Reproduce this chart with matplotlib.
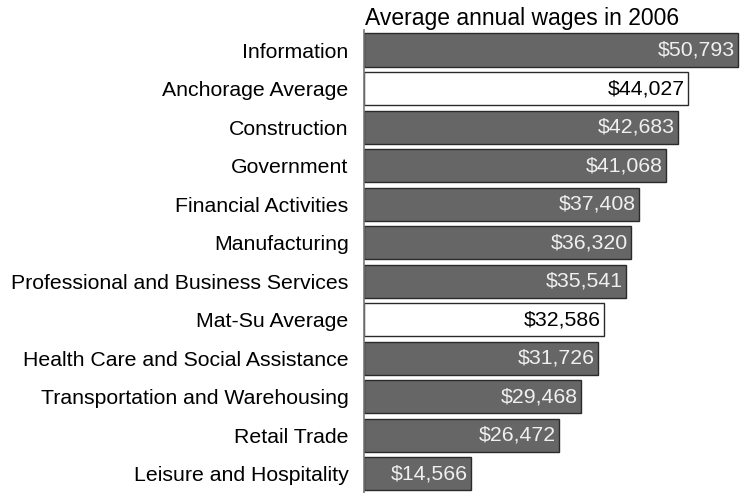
import matplotlib.pyplot as plt

plt.rcParams['font.family'] = ['Liberation Sans', 'DejaVu Sans']

industries = ['Information', 'Anchorage Average', 'Construction', 'Government',
              'Financial Activities', 'Manufacturing',
              'Professional and Business Services', 'Mat-Su Average',
              'Health Care and Social Assistance',
              'Transportation and Warehousing', 'Retail Trade',
              'Leisure and Hospitality']
wages = [50793, 44027, 42683, 41068, 37408, 36320, 35541, 32586, 31726,
         29468, 26472, 14566]
is_average = [False, True, False, False, False, False, False, True, False,
              False, False, False]

fig = plt.figure(figsize=(7.41, 4.93), dpi=100)
ax = fig.add_axes([364 / 741, 0, 377 / 741, 463 / 493])

pos = list(range(len(industries)))
colors = ['white' if a else '#666666' for a in is_average]
ax.barh(pos, wages, height=0.86, color=colors, edgecolor='#2a2a2a', linewidth=1)

for y, w, a in zip(pos, wages, is_average):
    ax.text(w - 450, y, '${:,}'.format(w), ha='right', va='center',
            fontsize=15.3, color='black' if a else '#f0f0f0')

ax.set_xlim(0, 50793 * 377 / 374)
ax.set_ylim(11.5, -0.52)
ax.set_yticks(pos)
ax.set_yticklabels(industries, fontsize=15.3)
ax.tick_params(axis='y', length=0, pad=11)
ax.set_xticks([])
for s in ['top', 'right', 'bottom']:
    ax.spines[s].set_visible(False)
ax.spines['left'].set_color('#777777')
ax.spines['left'].set_linewidth(1.2)

fig.text(365 / 741, 1 - 25 / 493, 'Average annual wages in 2006', ha='left',
         va='baseline', fontsize=16.5)

fig.savefig('out.png', dpi=100)
